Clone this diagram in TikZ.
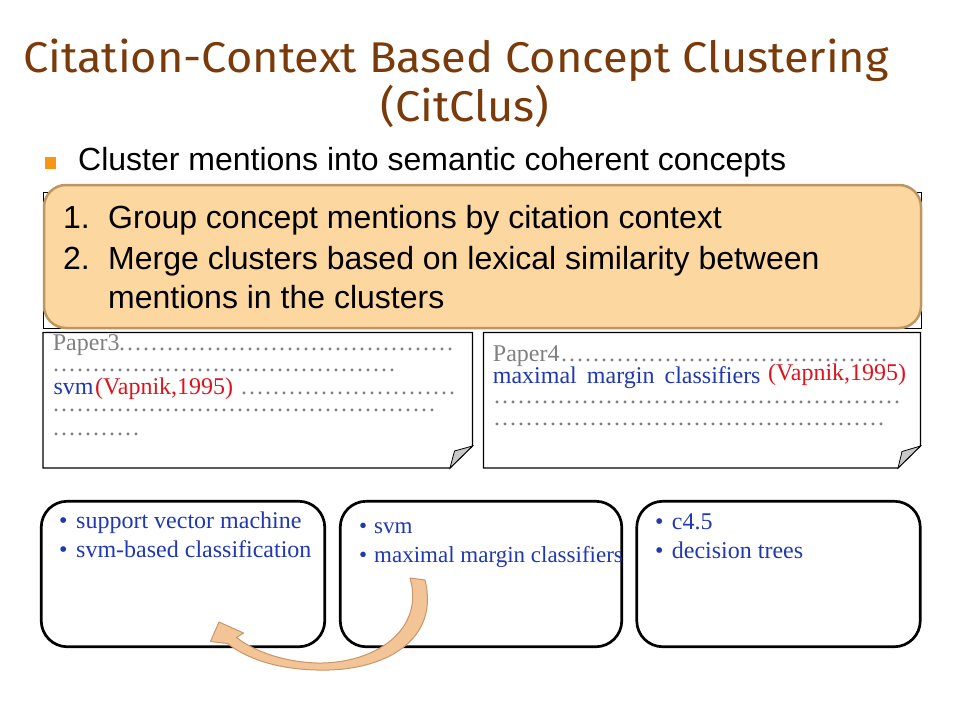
\documentclass[tikz,border=0pt]{standalone}
\usepackage{fontspec}
\setmainfont{Liberation Serif}
\setsansfont{Liberation Sans}
\newfontfamily\titlefont{Fira Sans}
\definecolor{titlebrown}{RGB}{122,58,10}
\definecolor{sqorange}{RGB}{247,150,20}
\definecolor{boxfill}{RGB}{252,215,160}
\definecolor{boxborder}{RGB}{190,150,100}
\definecolor{txtblue}{RGB}{32,56,176}
\definecolor{txtred}{RGB}{220,20,30}
\definecolor{txtgray}{RGB}{128,128,128}
\definecolor{foldgray}{RGB}{200,200,200}
\definecolor{arrfill}{RGB}{243,196,150}
\definecolor{arrborder}{RGB}{200,150,105}
\newcommand\dotrunto[1]{\hbox to #1{\leaders\hbox to 8pt{\hss.\hss}\hfill}}
\tikzset{
  titletext/.style={font=\titlefont\fontsize{43}{50}\selectfont, text=titlebrown, inner sep=0, anchor=base, xscale=1.05},
  sanstext/.style={font=\sffamily\fontsize{32}{38}\selectfont, text=black, inner sep=0, anchor=base west},
  papertext/.style={font=\fontsize{24}{28}\selectfont, inner sep=0, anchor=base west},
  graytext/.style={papertext, text=txtgray},
  bluetext/.style={papertext, text=txtblue},
  redtext/.style={papertext, text=txtred},
  boxtext/.style={font=\fontsize{24}{28}\selectfont, inner sep=0, anchor=base west, text=txtblue},
  boxtextsmall/.style={boxtext, font=\fontsize{23}{28}\selectfont},
  clusterbox/.style={draw, line width=2.7, rounded corners=26, minimum width=283.5, minimum height=145.5, inner sep=0},
  paperline/.style={draw=black, line width=1.1},
}
\begin{document}
\begin{tikzpicture}[x=1pt,y=-1pt]
\useasboundingbox (0,0) rectangle (960,720);
\fill[white] (0,0) rectangle (960,720);

% title
\node[titletext] (t1) at (456,72.7) {Citation-Context Based Concept Clustering};
\node[titletext] (t2) at (465,121.7) {(CitClus)};

% bullet line
\node[fill=sqorange, minimum width=11, minimum height=12, inner sep=0] (sq) at (50.5,162.5) {};
\node[sanstext] (cl) at (78,170) {Cluster mentions into semantic coherent concepts};

% background rectangle and orange box
\draw[line width=0.8] (43,192) rectangle (921,328);
\draw[fill=boxfill, draw=boxborder, line width=2.5, rounded corners=22] (44,185) rectangle (921,328);
\node[sanstext] (n1) at (63,228.3) {1.};
\node[sanstext] (s1) at (108,228.3) {Group concept mentions by citation context};
\node[sanstext] (n2) at (63,269) {2.};
\node[sanstext] (s2) at (108,269) {Merge clusters based on lexical similarity between};
\node[sanstext] (s3) at (108,308) {mentions in the clusters};

% paper 3
\draw[paperline, fill=white] (43,332.5) -- (472.5,332.5) -- (472.5,446) -- (450,468) -- (43,468) -- cycle;
\draw[paperline, line width=0.8, fill=foldgray] (450,468) -- (454.5,451) -- (472.5,446) -- cycle;
\node[graytext] (p3) at (52.7,350.7) {Paper3};
\node[graytext] (p3d1) at (118,350.7) {\dotrunto{342pt}};
\node[graytext] (p3d2) at (52,371.7) {\dotrunto{346pt}};
\node[bluetext] (p3svm) at (53.3,394.5) {svm};
\node[redtext] (p3cit) at (95,394.5) {(Vapnik,1995)};
\node[graytext] (p3d3) at (240,394.5) {\dotrunto{218pt}};
\node[graytext] (p3d4) at (52,411.7) {\dotrunto{388pt}};
\node[graytext] (p3d5) at (52,435) {\dotrunto{94pt}};

% paper 4
\draw[paperline, fill=white] (483.5,332.5) -- (920.5,332.5) -- (920.5,446) -- (898,468) -- (483.5,468) -- cycle;
\draw[paperline, line width=0.8, fill=foldgray] (898,468) -- (902,451.5) -- (920.5,446) -- cycle;
\node[graytext] (p4) at (492.7,361.7) {Paper4};
\node[graytext] (p4d1) at (560,361.7) {\dotrunto{330pt}};
\node[bluetext] (p4mm) at (492.7,383.3) {maximal\hspace{0.42em}margin\hspace{0.42em}classifiers};
\node[redtext] (p4cit) at (768,380) {(Vapnik,1995)};
\node[graytext] (p4d2) at (493,403.3) {\dotrunto{412pt}};
\node[graytext] (p4d3) at (493,425) {\dotrunto{394pt}};

% cluster boxes
\node[clusterbox] (c1) at (183,574) {};
\node[clusterbox, minimum width=281.5] (c2) at (481,574) {};
\node[clusterbox] (c3) at (778.5,574) {};

\node[boxtext] (b11) at (59,528.5) {•};
\node[boxtext] (c1a) at (76,528.5) {support vector machine};
\node[boxtext] (b12) at (59,557.5) {•};
\node[boxtext] (c1b) at (76,557.5) {svm-based classification};

\node[boxtextsmall] (b21) at (359,533) {•};
\node[boxtextsmall] (c2a) at (374,533) {svm};
\node[boxtextsmall] (b22) at (359,562) {•};
\node[boxtextsmall] (c2b) at (374,562) {maximal margin classifiers};

\node[boxtext] (b31) at (655,529.3) {•};
\node[boxtext] (c3a) at (671.7,529.3) {c4.5};
\node[boxtext] (b32) at (655,558.3) {•};
\node[boxtext] (c3b) at (671.7,558.3) {decision trees};

% curved arrow from cluster 2 to cluster 1
\draw[fill=arrfill, draw=arrborder, line width=1, line join=round]
  (219,622) -- (243.5,633) -- (236.5,637.5)
  .. controls (255,652) and (285,662) .. (317,663)
  .. controls (375,664) and (425,630) .. (410,578)
  -- (425,580)
  .. controls (440,640) and (385,672) .. (317,670)
  .. controls (275,669) and (246,658) .. (227.5,643.5)
  -- (210.5,641.5) -- cycle;
\end{tikzpicture}
\end{document}
